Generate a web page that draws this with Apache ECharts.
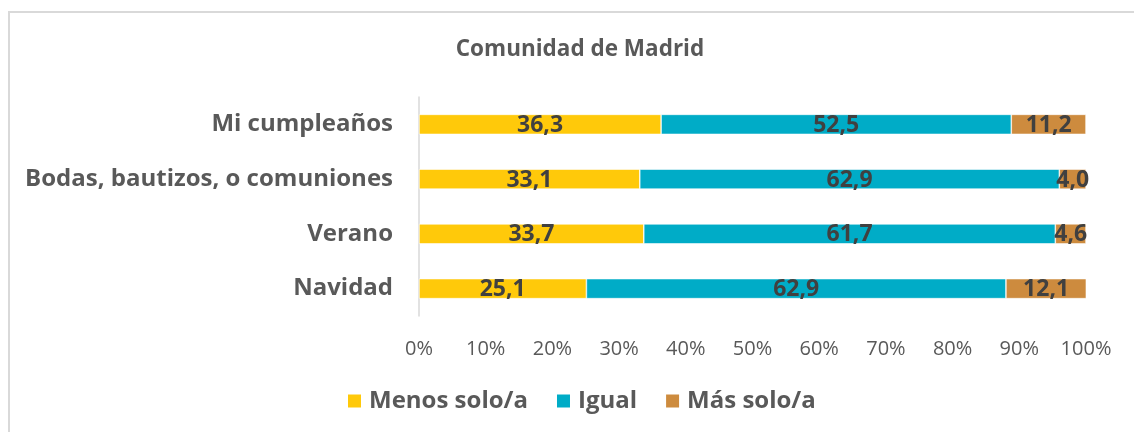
<!DOCTYPE html>
<html><head><meta charset="utf-8">
<script src="https://cdn.jsdelivr.net/npm/echarts@6/dist/echarts.min.js"></script>
<style>
html,body{margin:0;padding:0;background:#fff;overflow:hidden;}
#frame{position:absolute;left:8px;top:11px;width:1200px;height:500px;border:2px solid #d9d9d9;box-sizing:border-box;}
#c{position:absolute;left:0;top:0;width:1134px;height:432px;}
</style></head>
<body>
<div id="frame"></div>
<div id="c"></div>
<script>
const categories = ['Navidad', 'Verano', 'Bodas, bautizos, o comuniones', 'Mi cumpleaños'];
const menosSolo = [25.1, 33.7, 33.1, 36.3];
const igual = [62.9, 61.7, 62.9, 52.5];
const masSolo = [12.1, 4.6, 4.0, 11.2];
const seriesNames = ['Menos solo/a', 'Igual', 'Más solo/a'];
const tickLabels = ['0%','10%','20%','30%','40%','50%','60%','70%','80%','90%','100%'];

const colors = ['#FFC90A', '#00ACC7', '#CD8B3E'];
const FONT = '"Open Sans", sans-serif';
const chart = echarts.init(document.getElementById('c'), null, {renderer:'canvas'});
const lbl = {
  show: true, position: 'inside', color: '#404040', fontFamily: FONT,
  fontWeight: 'bold', fontSize: 23, offset: [0, 1],
  formatter: p => p.value.toFixed(1).replace('.', ',')
};
const mk = (name, data, i) => ({
  name, type: 'bar', stack: 'total', data, barWidth: 20,
  itemStyle: {color: colors[i], borderColor: '#ffffff', borderWidth: 0.6},
  label: lbl, emphasis: {disabled: true}
});
chart.setOption({
  animation: false,
  color: colors,
  title: {
    text: 'Comunidad de Madrid', left: 575, top: 33, textAlign: 'center',
    textStyle: {fontFamily: FONT, fontWeight: 'bold', fontSize: 22.5, color: '#595959'}
  },
  legend: {
    data: seriesNames, left: 346, top: 389, padding: 0, itemWidth: 15, itemHeight: 15,
    itemGap: 27, icon: 'rect',
    textStyle: {fontFamily: FONT, fontWeight: 'bold', fontSize: 24, color: '#595959', padding: [0,0,0,2]}
  },
  grid: {left: 419, right: 48, top: 97, bottom: 116, containLabel: false},
  xAxis: {
    type: 'value', min: 0, max: 100, interval: 10,
    axisLine: {show: false}, axisTick: {show: false}, splitLine: {show: false},
    axisLabel: {
      margin: 23, color: '#595959', fontFamily: FONT, fontSize: 20,
      formatter: (v) => tickLabels[Math.round(v / 10)]
    }
  },
  yAxis: {
    type: 'category', data: categories,
    axisLine: {show: true, lineStyle: {color: '#D9D9D9', width: 1.5}},
    axisTick: {show: false},
    axisLabel: {margin: 26, color: '#595959', fontFamily: FONT, fontWeight: 'bold', fontSize: 24}
  },
  series: [mk(seriesNames[0], menosSolo, 0), mk(seriesNames[1], igual, 1), mk(seriesNames[2], masSolo, 2)]
});
</script>
</body></html>
